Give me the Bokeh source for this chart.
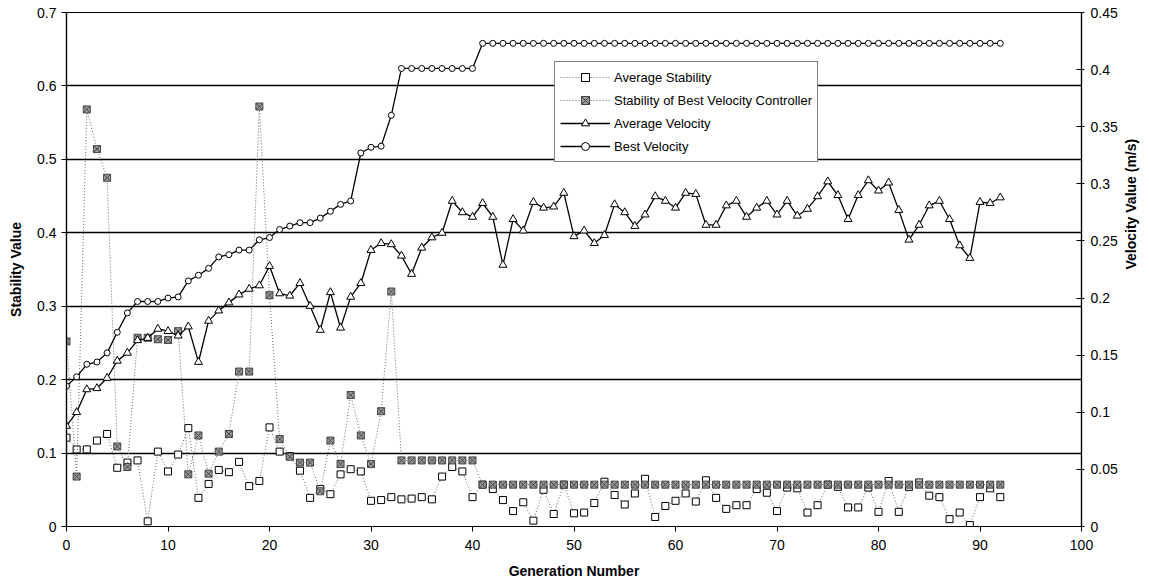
from bokeh.plotting import figure
from bokeh.models import Range1d, LinearAxis, FixedTicker, Legend, LegendItem, CustomJSTickFormatter
from bokeh.embed import file_html
from bokeh.resources import INLINE

generations = list(range(93))

avg_stability = [
    0.121, 0.105, 0.105, 0.117, 0.126, 0.080, 0.087, 0.090, 0.007, 0.102,
    0.075, 0.098, 0.134, 0.039, 0.058, 0.077, 0.074, 0.088, 0.055, 0.062,
    0.135, 0.102, 0.096, 0.076, 0.039, 0.051, 0.044, 0.071, 0.078, 0.075,
    0.035, 0.036, 0.040, 0.037, 0.038, 0.040, 0.037, 0.068, 0.081, 0.075,
    0.040, 0.057, 0.051, 0.036, 0.021, 0.033, 0.008, 0.050, 0.017, 0.057,
    0.018, 0.019, 0.032, 0.061, 0.043, 0.030, 0.045, 0.065, 0.013, 0.028,
    0.035, 0.045, 0.034, 0.063, 0.039, 0.024, 0.029, 0.029, 0.051, 0.046,
    0.021, 0.053, 0.052, 0.019, 0.029, 0.057, 0.054, 0.026, 0.026, 0.053,
    0.020, 0.062, 0.020, 0.054, 0.060, 0.042, 0.040, 0.010, 0.019, 0.002,
    0.040, 0.052, 0.040,
]

best_ctrl_stability = [
    0.252, 0.068, 0.568, 0.514, 0.475, 0.109, 0.081, 0.257, 0.257, 0.255,
    0.254, 0.266, 0.071, 0.124, 0.072, 0.102, 0.126, 0.211, 0.211, 0.572,
    0.315, 0.119, 0.095, 0.087, 0.087, 0.048, 0.117, 0.085, 0.179, 0.124,
    0.085, 0.157, 0.320, 0.090, 0.090, 0.090, 0.090, 0.090, 0.090, 0.090,
    0.090, 0.057, 0.057, 0.057, 0.057, 0.057, 0.057, 0.057, 0.057, 0.057,
    0.057, 0.057, 0.057, 0.057, 0.057, 0.057, 0.057, 0.057, 0.057, 0.057,
    0.057, 0.057, 0.057, 0.057, 0.057, 0.057, 0.057, 0.057, 0.057, 0.057,
    0.057, 0.057, 0.057, 0.057, 0.057, 0.057, 0.057, 0.057, 0.057, 0.057,
    0.057, 0.057, 0.057, 0.057, 0.057, 0.057, 0.057, 0.057, 0.057, 0.057,
    0.057, 0.057, 0.057,
]

avg_velocity = [
    0.088, 0.100, 0.120, 0.121, 0.130, 0.145, 0.152, 0.163, 0.165, 0.173,
    0.171, 0.167, 0.175, 0.144, 0.180, 0.189, 0.196, 0.203, 0.208, 0.211,
    0.228, 0.204, 0.202, 0.213, 0.193, 0.172, 0.205, 0.174, 0.201, 0.213,
    0.242, 0.248, 0.247, 0.237, 0.221, 0.244, 0.253, 0.257, 0.285, 0.275,
    0.271, 0.283, 0.271, 0.229, 0.269, 0.259, 0.284, 0.279, 0.280, 0.292,
    0.254, 0.259, 0.248, 0.255, 0.282, 0.275, 0.263, 0.273, 0.289, 0.285,
    0.279, 0.292, 0.291, 0.264, 0.264, 0.281, 0.285, 0.271, 0.279, 0.285,
    0.273, 0.285, 0.272, 0.278, 0.289, 0.302, 0.290, 0.269, 0.290, 0.303,
    0.294, 0.301, 0.277, 0.251, 0.264, 0.281, 0.285, 0.269, 0.246, 0.235,
    0.284, 0.283, 0.288,
]

best_velocity = [
    0.123, 0.131, 0.142, 0.144, 0.152, 0.170, 0.187, 0.197, 0.197, 0.197,
    0.200, 0.201, 0.215, 0.220, 0.226, 0.236, 0.238, 0.242, 0.242, 0.251,
    0.253, 0.260, 0.263, 0.266, 0.266, 0.270, 0.276, 0.282, 0.285, 0.327,
    0.332, 0.333, 0.360, 0.401, 0.401, 0.401, 0.401, 0.401, 0.401, 0.401,
    0.401, 0.423, 0.423, 0.423, 0.423, 0.423, 0.423, 0.423, 0.423, 0.423,
    0.423, 0.423, 0.423, 0.423, 0.423, 0.423, 0.423, 0.423, 0.423, 0.423,
    0.423, 0.423, 0.423, 0.423, 0.423, 0.423, 0.423, 0.423, 0.423, 0.423,
    0.423, 0.423, 0.423, 0.423, 0.423, 0.423, 0.423, 0.423, 0.423, 0.423,
    0.423, 0.423, 0.423, 0.423, 0.423, 0.423, 0.423, 0.423, 0.423, 0.423,
    0.423, 0.423, 0.423,
]

x_ticks = [0, 10, 20, 30, 40, 50, 60, 70, 80, 90, 100]
stability_ticks = [0, 0.1, 0.2, 0.3, 0.4, 0.5, 0.6, 0.7]
velocity_ticks = [0, 0.05, 0.1, 0.15, 0.2, 0.25, 0.3, 0.35, 0.4, 0.45]

series_labels = ["Average Stability", "Stability of Best Velocity Controller",
                 "Average Velocity", "Best Velocity"]

FONT = "Liberation Sans"

p = figure(width=1149, height=587, x_range=Range1d(0, 100), y_range=Range1d(0, 0.7),
           output_backend="svg", toolbar_location=None,
           min_border_left=66, min_border_right=67, min_border_top=12, min_border_bottom=61)
p.extra_y_ranges = {"vel": Range1d(0, 0.45)}
p.background_fill_color = "white"
p.border_fill_color = "white"
p.outline_line_color = "black"
p.outline_line_width = 1.2

fmt = CustomJSTickFormatter(code="return String(Math.round(tick*100)/100);")

xa = p.xaxis[0]
xa.ticker = FixedTicker(ticks=x_ticks)
xa.axis_label = "Generation Number"
ya = p.yaxis[0]
ya.ticker = FixedTicker(ticks=stability_ticks)
ya.formatter = fmt
ya.axis_label = "Stability Value"

ra = LinearAxis(y_range_name="vel", ticker=FixedTicker(ticks=velocity_ticks),
                formatter=fmt, axis_label="Velocity Value (m/s)")
p.add_layout(ra, "right")

for ax in [xa, ya, ra]:
    ax.axis_line_color = "black"
    ax.axis_line_width = 1.2
    ax.major_tick_line_color = "black"
    ax.minor_tick_line_color = None
    ax.major_tick_in = 0
    ax.major_tick_out = 5
    ax.major_label_text_font = FONT
    ax.major_label_text_font_size = "14px"
    ax.major_label_text_color = "black"
    ax.axis_label_text_font = FONT
    ax.axis_label_text_font_size = "14px"
    ax.axis_label_text_font_style = "bold"
    ax.axis_label_text_color = "black"
    ax.major_label_standoff = 4

ra.major_tick_in = 5
ra.major_tick_out = 3
ra.major_label_standoff = 6
ra.axis_label_standoff = 10
ra.axis_label_orientation = 1.5707963
ya.axis_label_standoff = 10
ya.major_label_standoff = 5
xa.major_label_standoff = 8
xa.axis_label_standoff = 10

p.xgrid.visible = False
p.ygrid.ticker = FixedTicker(ticks=stability_ticks)
p.ygrid.grid_line_color = "black"
p.ygrid.grid_line_width = 1.3
p.ygrid.grid_line_alpha = 1.0

# Average Stability
l1 = p.line(generations, avg_stability, line_color="#666666", line_width=1, line_dash="1 2")
s1 = p.scatter(generations, avg_stability, marker="square", size=7,
               line_color="black", fill_color="white", line_width=1)
# Stability of best velocity controller
l2 = p.line(generations, best_ctrl_stability, line_color="#666666", line_width=1, line_dash="1 2")
s2 = p.scatter(generations, best_ctrl_stability, marker="square_x", size=7,
               line_color="#444444", fill_color="#9a9a9a", line_width=1)
# Average Velocity
l3 = p.line(generations, avg_velocity, y_range_name="vel", line_color="black", line_width=1.3)
s3 = p.scatter(generations, avg_velocity, y_range_name="vel", marker="triangle", size=8,
               line_color="black", fill_color="white", line_width=1)
# Best Velocity
l4 = p.line(generations, best_velocity, y_range_name="vel", line_color="black", line_width=1.3)
s4 = p.scatter(generations, best_velocity, y_range_name="vel", marker="circle", size=6,
               line_color="black", fill_color="white", line_width=1)

legend = Legend(items=[
    LegendItem(label=series_labels[0], renderers=[l1, s1]),
    LegendItem(label=series_labels[1], renderers=[l2, s2]),
    LegendItem(label=series_labels[2], renderers=[l3, s3]),
    LegendItem(label=series_labels[3], renderers=[l4, s4]),
], location=(488, 364))
legend.border_line_color = "black"
legend.border_line_width = 1
legend.background_fill_color = "white"
legend.background_fill_alpha = 1
legend.label_text_font = FONT
legend.label_text_font_size = "13px"
legend.label_text_color = "black"
legend.glyph_width = 50
legend.glyph_height = 20
legend.label_height = 20
legend.spacing = 3
legend.padding = 5
legend.margin = 0
legend.label_standoff = 4
p.add_layout(legend)

open("out.html", "w").write(file_html(p, INLINE))
